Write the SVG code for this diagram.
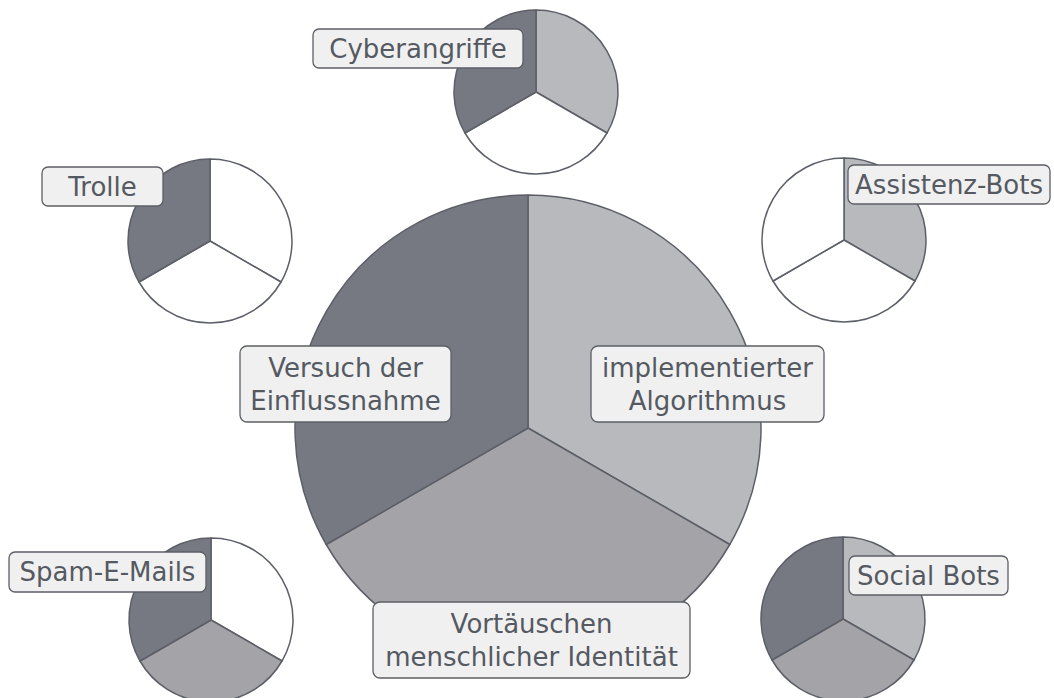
<svg xmlns="http://www.w3.org/2000/svg" xmlns:xlink="http://www.w3.org/1999/xlink" width="1054" height="698" viewBox="0 0 1054 698">
<style>
.sec{stroke:#5c5f67;stroke-width:1.5;stroke-linejoin:round}
.dark{fill:#767982}
.light{fill:#b8b9bd}
.mid{fill:#a4a3a8}
.white{fill:#ffffff}
.box{fill:#f0f0f0;stroke:#5c5f67;stroke-width:1.3}
.lbl{font-family:"DejaVu Sans",Verdana,sans-serif;font-size:26px;fill:#555961;text-anchor:middle}
</style>
<defs>
<path id="sA" d="M0,0 L0,-82 A82,82 0 0 1 71.01,41 Z"/>
<path id="sB" d="M0,0 L71.01,41 A82,82 0 0 1 -71.01,41 Z"/>
<path id="sC" d="M0,0 L-71.01,41 A82,82 0 0 1 0,-82 Z"/>
</defs>
<rect width="1054" height="698" fill="#ffffff"/>
<g id="connectors"></g>
<g id="main">
<g transform="translate(528,428)">
<path class="sec light" d="M0,0 L0,-233 A233,233 0 0 1 201.78,116.5 Z"/>
<path class="sec mid" d="M0,0 L201.78,116.5 A233,233 0 0 1 -201.78,116.5 Z"/>
<path class="sec dark" d="M0,0 L-201.78,116.5 A233,233 0 0 1 0,-233 Z"/>
</g>
<rect class="box" x="240" y="346" width="211" height="76" rx="7"/>
<text class="lbl" x="345.5" y="376.5">Versuch der</text>
<text class="lbl" x="345.5" y="409.5">Einflussnahme</text>
<rect class="box" x="591" y="346" width="233" height="76" rx="7"/>
<text class="lbl" x="707.5" y="376.5">implementierter</text>
<text class="lbl" x="707.5" y="409.5">Algorithmus</text>
<rect class="box" x="373" y="602" width="317" height="76" rx="7"/>
<text class="lbl" x="531.5" y="632.5">Vortäuschen</text>
<text class="lbl" x="531.5" y="665.5">menschlicher Identität</text>
</g>
<g id="cyberangriffe">
<g transform="translate(536,92)">
<use xlink:href="#sA" class="sec light"/>
<use xlink:href="#sB" class="sec white"/>
<use xlink:href="#sC" class="sec dark"/>
</g>
<rect class="box" x="313" y="29" width="210" height="39" rx="6"/>
<text class="lbl" x="418" y="57.5">Cyberangriffe</text>
</g>
<g id="trolle">
<g transform="translate(210,241)">
<use xlink:href="#sA" class="sec white"/>
<use xlink:href="#sB" class="sec white"/>
<use xlink:href="#sC" class="sec dark"/>
</g>
<rect class="box" x="42" y="167" width="121" height="39" rx="6"/>
<text class="lbl" x="102.5" y="195.5">Trolle</text>
</g>
<g id="assistenz-bots">
<g transform="translate(844,240)">
<use xlink:href="#sA" class="sec light"/>
<use xlink:href="#sB" class="sec white"/>
<use xlink:href="#sC" class="sec white"/>
</g>
<rect class="box" x="848" y="165" width="202" height="39" rx="6"/>
<text class="lbl" x="949" y="193.5">Assistenz-Bots</text>
</g>
<g id="spam-e-mails">
<g transform="translate(211,620)">
<use xlink:href="#sA" class="sec white"/>
<use xlink:href="#sB" class="sec mid"/>
<use xlink:href="#sC" class="sec dark"/>
</g>
<rect class="box" x="9" y="552" width="197" height="40" rx="6"/>
<text class="lbl" x="107.5" y="581">Spam-E-Mails</text>
</g>
<g id="social-bots">
<g transform="translate(843,619)">
<use xlink:href="#sA" class="sec light"/>
<use xlink:href="#sB" class="sec mid"/>
<use xlink:href="#sC" class="sec dark"/>
</g>
<rect class="box" x="849" y="556" width="159" height="39" rx="6"/>
<text class="lbl" x="928.5" y="584.5">Social Bots</text>
</g>
</svg>
